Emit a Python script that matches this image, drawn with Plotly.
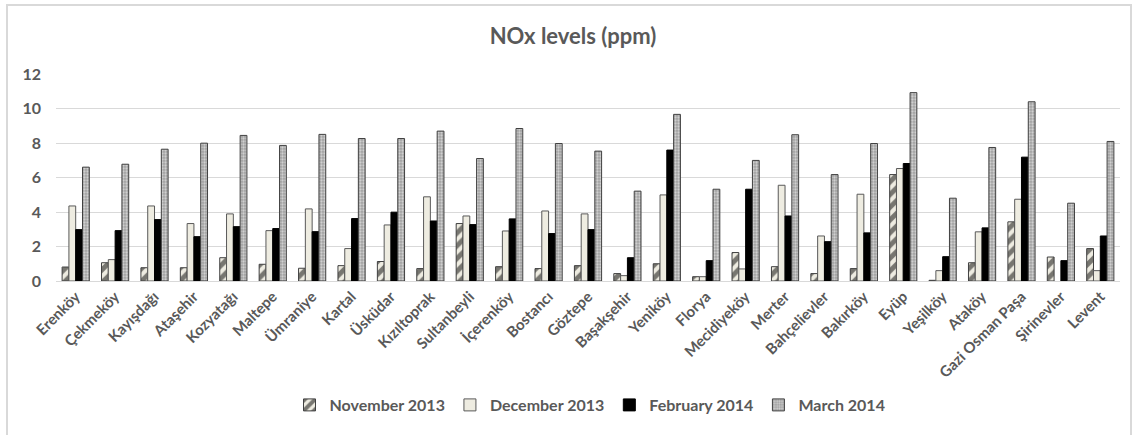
import plotly.graph_objects as go

categories = ["Erenköy", "Çekmeköy", "Kayışdağı", "Ataşehir", "Kozyatağı", "Maltepe", "Ümraniye",
              "Kartal", "Üsküdar", "Kızıltoprak", "Sultanbeyli", "İçerenköy", "Bostancı", "Göztepe",
              "Başakşehir", "Yeniköy", "Florya", "Mecidiyeköy", "Merter", "Bahçelievler", "Bakırköy",
              "Eyüp", "Yeşilköy", "Ataköy", "Gazi Osman Paşa", "Şirinevler", "Levent"]
nov_2013 = [0.81, 1.06, 0.77, 0.77, 1.35, 0.97, 0.74, 0.89, 1.13, 0.72, 3.33, 0.83, 0.72, 0.89,
            0.43, 1.00, 0.25, 1.65, 0.83, 0.43, 0.72, 6.17, 0.04, 1.06, 3.43, 1.39, 1.88]
dec_2013 = [4.35, 1.24, 4.35, 3.33, 3.89, 2.92, 4.18, 1.88, 3.25, 4.88, 3.77, 2.90, 4.06, 3.89,
            0.31, 4.99, 0.25, 0.70, 5.55, 2.61, 5.03, 6.52, 0.60, 2.85, 4.74, None, 0.60]
feb_2014 = [2.98, 2.92, 3.56, 2.57, 3.15, 3.04, 2.86, 3.62, 3.99, 3.48, 3.27, 3.60, 2.75, 2.98,
            1.35, 7.59, 1.18, 5.32, 3.77, 2.28, 2.79, 6.81, 1.41, 3.08, 7.18, 1.18, 2.61]
mar_2014 = [6.60, 6.77, 7.64, 7.99, 8.44, 7.86, 8.50, 8.26, 8.26, 8.69, 7.10, 8.84, 7.97, 7.53,
            5.21, 9.66, 5.32, 6.99, 8.48, 6.17, 7.97, 10.92, 4.80, 7.74, 10.39, 4.51, 8.09]
series_names = ["November 2013", "December 2013", "February 2014", "March 2014"]
y_ticks = [0, 2, 4, 6, 8, 10, 12]

GRAY = "#595959"
BEIGE = "#EEECE1"
FONT = "Lato"

fig = go.Figure()
fig.add_trace(go.Bar(
    x=categories, y=nov_2013, name=series_names[0],
    marker=dict(color=BEIGE, line=dict(color="#404040", width=1),
                pattern=dict(shape="/", fgcolor="black", bgcolor=BEIGE, size=9, solidity=0.55)),
))
fig.add_trace(go.Bar(
    x=categories, y=dec_2013, name=series_names[1],
    marker=dict(color=BEIGE, line=dict(color="#595959", width=1)),
))
fig.add_trace(go.Bar(
    x=categories, y=feb_2014, name=series_names[2],
    marker=dict(color="black", line=dict(color="black", width=1)),
))
fig.add_trace(go.Bar(
    x=categories, y=mar_2014, name=series_names[3],
    marker=dict(color="#c8c8c8", line=dict(color="#404040", width=1),
                pattern=dict(shape=".", fgcolor="#ffffff", bgcolor="#a0a0a0", size=3, solidity=0.45)),
))

plot_l, plot_r, plot_t, plot_b = 56, 12, 74, 154
W, H = 1132, 435
pw = W - plot_l - plot_r
ph = H - plot_t - plot_b

def px_x(p):
    return (p - plot_l) / pw

def px_y(p):
    return (H - plot_b - p) / ph

fig.update_layout(
    width=W, height=H,
    margin=dict(l=plot_l, r=plot_r, t=plot_t, b=plot_b, autoexpand=False),
    paper_bgcolor="white", plot_bgcolor="white",
    barmode="group", bargap=0.31, bargroupgap=0.0,
    title=dict(text="<b>NOx levels (ppm)</b>", x=573 / W, xanchor="center", y=(H - 36) / H,
               yanchor="middle", font=dict(family=FONT, size=22, color=GRAY)),
    font=dict(family=FONT, color=GRAY),
    legend=dict(orientation="h", x=px_x(590), xanchor="center", y=px_y(405), yanchor="middle",
                font=dict(family=FONT, size=16, color=GRAY, weight="bold"),
                itemwidth=30, traceorder="normal"),
    showlegend=True,
    xaxis=dict(tickangle=-45, showgrid=False, showline=True, linecolor="#d9d9d9", linewidth=1,
               ticks="", automargin=False, tickfont=dict(family=FONT, size=15, color=GRAY, weight="bold")),
    yaxis=dict(range=[0, 12], tickvals=y_ticks, showgrid=True, gridcolor="#d9d9d9", gridwidth=1,
               zeroline=False, showline=False, ticks="", ticklabelstandoff=14, automargin=False,
               tickfont=dict(family=FONT, size=16, color=GRAY, weight="bold")),
    shapes=[dict(type="rect", xref="paper", yref="paper",
                 x0=px_x(7), x1=px_x(1131), y0=px_y(440), y1=px_y(5),
                 line=dict(color="#d9d9d9", width=2), fillcolor="rgba(0,0,0,0)", layer="below")],
)

fig.write_html("out.html", config={"displayModeBar": False},
               post_script="document.body.style.margin='0';document.body.style.overflow='hidden';")
